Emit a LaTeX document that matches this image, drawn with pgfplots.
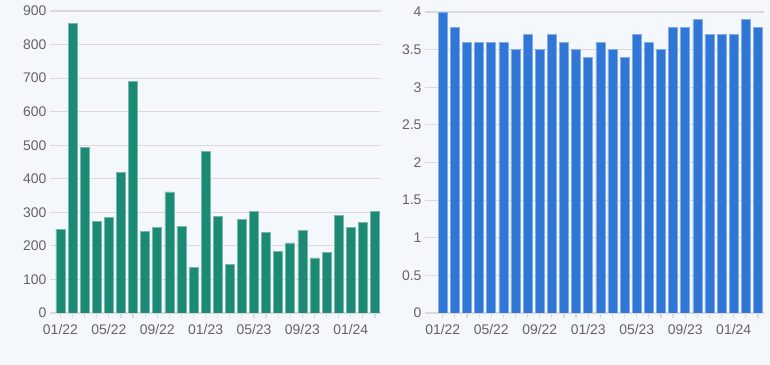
\documentclass[border=0pt]{standalone}
\usepackage{pgfplots}
\pgfplotsset{compat=1.18}
\usepackage{fontspec}
\setmainfont{Liberation Sans}
\definecolor{bg}{RGB}{244,247,251}
\definecolor{grn}{RGB}{27,137,115}
\definecolor{blu}{RGB}{47,118,214}
\definecolor{gridc}{RGB}{218,218,218}
\definecolor{lbl}{RGB}{100,100,100}
\pgfplotsset{
  mystyle/.style={
    scale only axis,
    axis line style={draw=none},
    ymajorgrids, grid style={gridc, line width=1.2pt},
    ymin=0,
    xtick={0,...,26},
    xticklabels={01/22,,,,05/22,,,,09/22,,,,01/23,,,,05/23,,,,09/23,,,,01/24,,},
    tick align=outside, xtick pos=bottom, ytick pos=left,
    major tick length=5bp,
    tick style={gridc, line width=1.2pt},
    ticklabel style={font=\fontsize{14}{16}\selectfont, text=lbl},
    xticklabel style={yshift=-3bp},
    /pgf/number format/assume math mode=true,
    /pgf/number format/fixed,
    xmax=26.5,
    ybar, bar width=9bp, bar shift=0pt,
    anchor=south west,
  }
}
\begin{document}
\begin{tikzpicture}
\fill[bg] (0,0) rectangle (770bp,365bp);
\begin{axis}[mystyle, at={(55bp,52bp)}, width=326bp, height=302bp,
  ymax=900, ytick={0,100,...,900}, xmin=-0.45]
\addplot[fill=grn, draw=grn!60!white, line width=0.6pt] coordinates {
(0,250) (1,862) (2,493) (3,272) (4,286) (5,420) (6,690) (7,242) (8,254) (9,361)
(10,258) (11,135) (12,481) (13,287) (14,145) (15,278) (16,302) (17,240) (18,183) (19,209)
(20,245) (21,164) (22,181) (23,290) (24,256) (25,269) (26,302)};
\end{axis}
\begin{axis}[mystyle, at={(430bp,52bp)}, width=334bp, height=301bp,
  ymax=4, ytick={0,0.5,...,4}, xmin=-1.05]
\addplot[fill=blu, draw=blu!60!white, line width=0.6pt] coordinates {
(0,4.0) (1,3.8) (2,3.6) (3,3.6) (4,3.6) (5,3.6) (6,3.5) (7,3.7) (8,3.5) (9,3.7)
(10,3.6) (11,3.5) (12,3.4) (13,3.6) (14,3.5) (15,3.4) (16,3.7) (17,3.6) (18,3.5) (19,3.8)
(20,3.8) (21,3.9) (22,3.7) (23,3.7) (24,3.7) (25,3.9) (26,3.8)};
\end{axis}
\end{tikzpicture}
\end{document}
